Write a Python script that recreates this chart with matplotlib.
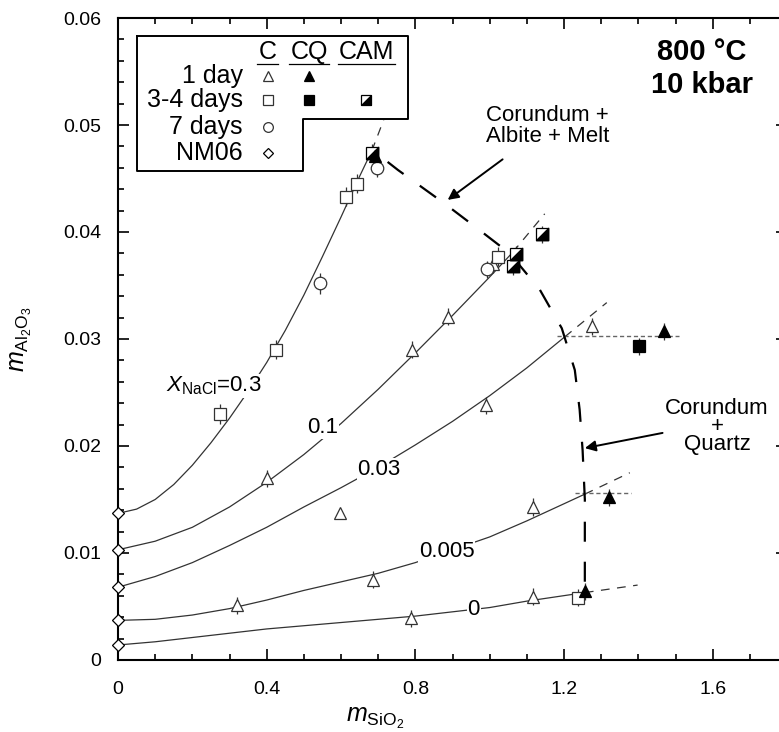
import matplotlib.pyplot as plt
import numpy as np
from matplotlib.ticker import MultipleLocator

plt.rcParams['font.family'] = ['Liberation Sans', 'DejaVu Sans']
plt.rcParams['mathtext.fontset'] = 'custom'
plt.rcParams['mathtext.rm'] = 'Liberation Sans'
plt.rcParams['mathtext.it'] = 'Liberation Sans:italic'

# model curves (x = m SiO2, y = m Al2O3)
curve_labels = ["0.3", "0.1", "0.03", "0.005", "0"]
c03_x = [0, 0.05, 0.1, 0.15, 0.2, 0.25, 0.3, 0.35, 0.4, 0.45, 0.5, 0.55, 0.6, 0.65, 0.683]
c03_y = [0.0137, 0.0141, 0.0150, 0.0164, 0.0182, 0.0203, 0.0226, 0.0251, 0.0278, 0.0308,
         0.0341, 0.0377, 0.0414, 0.0452, 0.0476]
c01_x = [0, 0.1, 0.2, 0.3, 0.4, 0.5, 0.6, 0.7, 0.8, 0.9, 1.0, 1.062]
c01_y = [0.0103, 0.0111, 0.0124, 0.0143, 0.0166, 0.0192, 0.0221, 0.0253, 0.0287, 0.0322, 0.0358, 0.0381]
c003_x = [0, 0.1, 0.2, 0.3, 0.4, 0.5, 0.6, 0.7, 0.8, 0.9, 1.0, 1.1, 1.202]
c003_y = [0.0068, 0.0078, 0.0091, 0.0107, 0.0124, 0.0143, 0.0161, 0.0180, 0.0201, 0.0223, 0.0247, 0.0273, 0.0302]
c0005_x = [0, 0.1, 0.2, 0.3, 0.4, 0.5, 0.6, 0.7, 0.8, 0.9, 1.0, 1.1, 1.2, 1.256]
c0005_y = [0.0037, 0.0038, 0.0042, 0.0048, 0.0056, 0.0065, 0.0073, 0.0081, 0.0091, 0.0103, 0.0115, 0.0130, 0.0146, 0.0155]
c0_x = [0, 0.1, 0.2, 0.3, 0.4, 0.5, 0.6, 0.7, 0.8, 0.9, 1.0, 1.1, 1.256]
c0_y = [0.0014, 0.0017, 0.0021, 0.0025, 0.0029, 0.0032, 0.0035, 0.0038, 0.0041, 0.0045, 0.0049, 0.0055, 0.0063]
# dashed metastable extensions (start, end)
ext_x = [[0.683, 0.715], [1.062, 1.148], [1.202, 1.315], [1.256, 1.377], [1.256, 1.398]]
ext_y = [[0.0476, 0.0505], [0.0381, 0.0417], [0.0302, 0.0334], [0.0155, 0.0175], [0.0063, 0.0070]]
# label positions
lab_x = [0.258, 0.551, 0.702, 0.885, 0.957]
lab_y = [0.0256, 0.0217, 0.0178, 0.0101, 0.0047]

# saturation boundary
bnd_x = [0.683, 0.753, 0.877, 0.968, 1.054, 1.135, 1.194, 1.229, 1.242, 1.250, 1.256, 1.256]
bnd_y = [0.0477, 0.0458, 0.0427, 0.0403, 0.0380, 0.0346, 0.0310, 0.0271, 0.0234, 0.0196, 0.0150, 0.0061]

# solubility-limit guides
hl_y = [0.0303, 0.0156]
hl_x0 = [1.18, 1.23]
hl_x1 = [1.51, 1.38]

# experiments
c1_x = [0.320, 0.686, 0.788, 0.597, 0.401, 0.790, 0.888, 0.990, 1.116, 1.116, 1.275, 1.008]
c1_y = [0.0051, 0.0075, 0.0039, 0.0137, 0.0170, 0.0290, 0.0321, 0.0238, 0.0143, 0.0059, 0.0312, 0.0370]
c1_e = [0.0008, 0.0008, 0.0008, 0.0, 0.0008, 0.0008, 0.0008, 0.0008, 0.0008, 0.0008, 0.0008, 0.0008]
cq1_x = [0.691, 1.256, 1.320, 1.468]
cq1_y = [0.0471, 0.0064, 0.0152, 0.0307]
cq1_e = [0.0, 0.0008, 0.0008, 0.0008]
c34_x = [0.274, 0.425, 0.613, 0.642, 1.022, 1.237]
c34_y = [0.0230, 0.0290, 0.0433, 0.0445, 0.0377, 0.0058]
c34_e = [0.0009, 0.0009, 0.0009, 0.0009, 0.0009, 0.0008]
cq34_x = [1.401]
cq34_y = [0.0293]
cq34_e = [0.0008]
cam_x = [0.683, 1.062, 1.070, 1.140]
cam_y = [0.0474, 0.0368, 0.0379, 0.0398]
cam_e = [0.0008, 0.0008, 0.0008, 0.0008]
d7_x = [0.543, 0.696, 0.992]
d7_y = [0.0352, 0.0460, 0.0365]
d7_e = [0.0010, 0.0009, 0.0008]
nm_x = [0, 0, 0, 0, 0]
nm_y = [0.0137, 0.0103, 0.0068, 0.0037, 0.0014]

half = [(-1, -1), (1, -1), (1, 1), (-1, -1)]

fig = plt.figure(figsize=(7.79, 7.32), dpi=100)
ax = fig.add_axes([0.1515, 0.0984, 0.8588, 0.877])
ax.set_xlim(0, 1.8)
ax.set_ylim(0, 0.06)

curves = [(c03_x, c03_y), (c01_x, c01_y), (c003_x, c003_y), (c0005_x, c0005_y), (c0_x, c0_y)]
for (cx, cy), ex, ey in zip(curves, ext_x, ext_y):
    ax.plot(cx, cy, color='#333333', lw=0.9, zorder=2)
    ax.plot(ex, ey, color='#333333', lw=0.9, dashes=(7, 6), zorder=2)

for i, (lx, ly, lab) in enumerate(zip(lab_x, lab_y, curve_labels)):
    txt = r'$X_{\mathrm{NaCl}}$=' + lab if i == 0 else lab
    ax.text(lx, ly, txt, fontsize=16, ha='center', va='center', zorder=3,
            bbox=dict(facecolor='white', edgecolor='none', pad=0.5))

ax.plot(bnd_x, bnd_y, color='black', lw=1.6, linestyle=(9, (9, 9)), zorder=4)

for y, x0, x1 in zip(hl_y, hl_x0, hl_x1):
    ax.plot([x0, x1], [y, y], color='#666666', lw=1.0, dashes=(3, 2), zorder=2)

eb = dict(fmt='none', ecolor='#333333', elinewidth=0.9, capsize=0, zorder=4)
ax.errorbar(c1_x, c1_y, yerr=c1_e, **eb)
ax.errorbar(cq1_x, cq1_y, yerr=cq1_e, **eb)
ax.errorbar(c34_x, c34_y, yerr=c34_e, **eb)
ax.errorbar(cq34_x, cq34_y, yerr=cq34_e, **eb)
ax.errorbar(cam_x, cam_y, yerr=cam_e, **eb)
ax.errorbar(d7_x, d7_y, yerr=d7_e, **eb)

mk = dict(ls='none', zorder=5, clip_on=False, mew=0.9)
ax.plot(c1_x, c1_y, marker='^', ms=9, mfc='white', mec='#333333', **mk)
ax.plot(c34_x, c34_y, marker='s', ms=9, mfc='white', mec='#333333', **mk)
ax.plot(d7_x, d7_y, marker='o', ms=9, mfc='white', mec='#333333', **mk)
ax.plot(nm_x, nm_y, marker='D', ms=6.5, mfc='white', mec='black', **mk)
ax.plot(cam_x, cam_y, marker='s', ms=9, mfc='white', mec='black', **mk)
ax.plot(cam_x, cam_y, marker=half, ms=9, mfc='black', mec='black', **mk)
ax.plot(cq1_x, cq1_y, marker='^', ms=9, mfc='black', mec='black', **mk)
ax.plot(cq34_x, cq34_y, marker='s', ms=9, mfc='black', mec='black', **mk)

# title block
ax.text(1.570, 0.0568, '800 °C', fontsize=21, fontweight='bold', ha='center', va='center')
ax.text(1.570, 0.0537, '10 kbar', fontsize=21, fontweight='bold', ha='center', va='center')

# annotations
ax.annotate('Corundum +\nAlbite + Melt', xy=(0.887, 0.0430), xytext=(1.156, 0.0499),
            fontsize=16, ha='center', va='center', linespacing=0.95,
            arrowprops=dict(arrowstyle='-|>', color='black', lw=1.4, mutation_scale=16,
                            shrinkA=12, shrinkB=0))
ax.annotate('Corundum\n+\nQuartz', xy=(1.256, 0.0198), xytext=(1.612, 0.0218),
            fontsize=16, ha='center', va='center', linespacing=0.8,
            arrowprops=dict(arrowstyle='-|>', color='black', lw=1.4, mutation_scale=16,
                            shrinkA=0, shrinkB=0, relpos=(0.0, 0.4)))

# legend drawn by hand in axes fraction
tr = ax.transAxes
box_x = [0.0284, 0.4335, 0.4335, 0.2765, 0.2765, 0.0284, 0.0284]
box_y = [0.972, 0.972, 0.8427, 0.8427, 0.7617, 0.7617, 0.972]
ax.fill(box_x, box_y, color='white', transform=tr, zorder=6)
ax.plot(box_x, box_y, color='black', lw=1.4, transform=tr, zorder=7)
col_x = [0.2235, 0.2855, 0.3714]
col_w = [0.031, 0.060, 0.085]
for cx, cw, h in zip(col_x, col_w, ['C', 'CQ', 'CAM']):
    ax.text(cx, 0.9465, h, fontsize=18, ha='center', va='center', transform=tr, zorder=8)
    ax.plot([cx - cw / 2, cx + cw / 2], [0.928, 0.928], color='black', lw=0.9,
            transform=tr, zorder=8)
row_y = [0.9097, 0.8723, 0.8302, 0.7897]
for ry, r in zip(row_y, ['1 day', '3-4 days', '7 days', 'NM06']):
    ax.text(0.1868, ry, r, fontsize=18, ha='right', va='center', transform=tr, zorder=8)
lk = dict(transform=tr, zorder=8, ls='none', clip_on=False, mew=0.9)
ax.plot(col_x[0], row_y[0], marker='^', ms=7, mfc='white', mec='#333333', **lk)
ax.plot(col_x[1], row_y[0], marker='^', ms=7, mfc='black', mec='black', **lk)
ax.plot(col_x[0], row_y[1], marker='s', ms=7, mfc='white', mec='#333333', **lk)
ax.plot(col_x[1], row_y[1], marker='s', ms=7, mfc='black', mec='black', **lk)
ax.plot(col_x[2], row_y[1], marker='s', ms=7, mfc='white', mec='black', **lk)
ax.plot(col_x[2], row_y[1], marker=half, ms=7, mfc='black', mec='black', **lk)
ax.plot(col_x[0], row_y[2], marker='o', ms=7, mfc='white', mec='#333333', **lk)
ax.plot(col_x[0], row_y[3], marker='D', ms=5.5, mfc='white', mec='black', **lk)

# axes styling
for s in ax.spines.values():
    s.set_linewidth(1.5)
ax.xaxis.set_minor_locator(MultipleLocator(0.1))
ax.yaxis.set_minor_locator(MultipleLocator(0.002))
ax.set_xticks([0, 0.4, 0.8, 1.2, 1.6])
ax.set_xticklabels(['0', '0.4', '0.8', '1.2', '1.6'])
ax.set_yticks([0, 0.01, 0.02, 0.03, 0.04, 0.05, 0.06])
ax.set_yticklabels(['0', '0.01', '0.02', '0.03', '0.04', '0.05', '0.06'])
ax.tick_params(which='both', direction='in', top=True, right=True, width=1.2)
ax.tick_params(which='major', length=8, labelsize=14)
ax.tick_params(axis='x', which='major', pad=15)
ax.tick_params(axis='y', which='major', pad=12)
ax.tick_params(which='minor', length=4.5)

ax.set_xlabel(r'$m_{\mathrm{SiO}_2}$', fontsize=18)
ax.set_ylabel(r'$m_{\mathrm{Al}_2\mathrm{O}_3}$', fontsize=18)
ax.xaxis.set_label_coords(0.385, -0.072)
ax.yaxis.set_label_coords(-0.125, 0.5)

fig.savefig('out.png', dpi=100)
